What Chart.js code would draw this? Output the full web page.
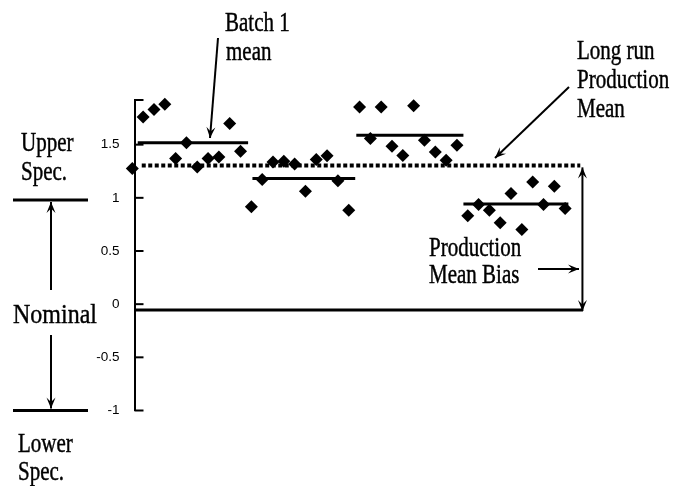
<!DOCTYPE html>
<html>
<head>
<meta charset="utf-8">
<script src="https://cdn.jsdelivr.net/npm/chart.js@4/dist/chart.umd.min.js"></script>
<style>
  body { margin: 0; background: #fff; }
  #wrap { width: 673px; height: 486px; position: relative; }
</style>
</head>
<body>
<div id="wrap"><canvas id="chart"></canvas></div>
<script>
// measured values, one array per batch (sample index runs on across batches)
const batch1 = [1.276, 1.761, 1.831, 1.881, 1.370, 1.517, 1.291, 1.370, 1.385, 1.699, 1.439];
const batch2 = [0.915, 1.173, 1.338, 1.345, 1.317, 1.063, 1.361, 1.395, 1.160, 0.884];
const batch3 = [1.855, 1.558, 1.855, 1.486, 1.398, 1.865, 1.542, 1.430, 1.354, 1.495];
const batch4 = [0.831, 0.938, 0.884, 0.765, 1.041, 0.703, 1.150, 0.938, 1.110, 0.900];

const batchMeans = [1.517, 1.182, 1.589, 0.941];
const meanLineStart = [0.5, 11.1, 20.7, 30.6];
const meanLineEnd = [10.7, 20.6, 30.6, 40.3];

const longRunMean = 1.305;
const longRunSpan = [0.87, 41.4];
const nominal = -0.055;
const nominalSpan = [0.2, 41.65];
const biasArrowAt = 41.6;

const upperSpec = 0.98;
const lowerSpec = -1;

const tickValues = [-1, -0.5, 0, 0.5, 1, 1.5];
const yMin = -1, yMax = 1.92;

// build scatter points
var points = [];
var idx = 0;
[batch1, batch2, batch3, batch4].forEach(function (b) {
  b.forEach(function (v) { points.push({ x: idx, y: v }); idx++; });
});

var datasets = [
  {
    type: 'scatter',
    data: points,
    pointStyle: 'rectRot',
    pointRadius: 6.5,
    backgroundColor: '#000',
    borderColor: '#000',
    borderWidth: 0,
    clip: false
  }
];

batchMeans.forEach(function (m, i) {
  datasets.push({
    type: 'line',
    data: [{ x: meanLineStart[i], y: m }, { x: meanLineEnd[i], y: m }],
    borderColor: '#000',
    borderWidth: 3,
    pointRadius: 0,
    clip: false
  });
});

datasets.push({
  type: 'line',
  data: [{ x: longRunSpan[0], y: longRunMean }, { x: longRunSpan[1], y: longRunMean }],
  borderColor: '#000',
  borderWidth: 4,
  borderDash: [4, 2.5],
  pointRadius: 0,
  clip: false
});

datasets.push({
  type: 'line',
  data: [{ x: nominalSpan[0], y: nominal }, { x: nominalSpan[1], y: nominal }],
  borderColor: '#000',
  borderWidth: 3,
  pointRadius: 0,
  clip: false
});

function serif(ctx, str, x, y, size, sy) {
  ctx.save();
  ctx.translate(x, y);
  ctx.scale(1, sy);
  ctx.font = size + 'px "Liberation Serif"';
  ctx.fillStyle = '#000';
  ctx.strokeStyle = '#000';
  ctx.lineWidth = 0.35;
  ctx.textAlign = 'left';
  ctx.textBaseline = 'alphabetic';
  ctx.fillText(str, 0, 0);
  ctx.strokeText(str, 0, 0);
  ctx.restore();
}

function arrow(ctx, x1, y1, x2, y2, heads) {
  ctx.save();
  ctx.strokeStyle = '#000';
  ctx.fillStyle = '#000';
  ctx.lineWidth = 2;
  ctx.beginPath();
  ctx.moveTo(x1, y1);
  ctx.lineTo(x2, y2);
  ctx.stroke();
  var ends = heads === 2 ? [[x2, y2, x1, y1], [x1, y1, x2, y2]] : [[x1, y1, x2, y2]];
  ends.forEach(function (e) {
    var a = Math.atan2(e[3] - e[1], e[2] - e[0]);
    var len = 11, w = 4.5;
    ctx.beginPath();
    ctx.moveTo(e[2], e[3]);
    ctx.lineTo(e[2] - len * Math.cos(a) + w * Math.sin(a), e[3] - len * Math.sin(a) - w * Math.cos(a));
    ctx.lineTo(e[2] - len * 0.6 * Math.cos(a), e[3] - len * 0.6 * Math.sin(a));
    ctx.lineTo(e[2] - len * Math.cos(a) - w * Math.sin(a), e[3] - len * Math.sin(a) + w * Math.cos(a));
    ctx.closePath();
    ctx.fill();
  });
  ctx.restore();
}

const annotations = {
  id: 'annotations',
  afterDraw: function (chart) {
    var ctx = chart.ctx;
    var ys = chart.scales.y, xs = chart.scales.x;
    var axisX = chart.chartArea.left;

    // inward tick marks on the value axis
    ctx.save();
    ctx.strokeStyle = '#000';
    ctx.lineWidth = 2;
    tickValues.concat([yMax]).forEach(function (v) {
      var py = ys.getPixelForValue(v);
      ctx.beginPath();
      ctx.moveTo(axisX, py);
      ctx.lineTo(axisX + 9, py);
      ctx.stroke();
    });
    ctx.restore();

    // spec limits on the left
    var yU = ys.getPixelForValue(upperSpec), yL = ys.getPixelForValue(lowerSpec);
    ctx.save();
    ctx.strokeStyle = '#000';
    ctx.lineWidth = 3;
    ctx.beginPath();
    ctx.moveTo(13, yU); ctx.lineTo(88, yU);
    ctx.moveTo(13, yL); ctx.lineTo(88, yL);
    ctx.stroke();
    ctx.restore();
    arrow(ctx, 51, 290, 51, yU + 2);
    arrow(ctx, 51, 335, 51, yL - 2);

    serif(ctx, 'Upper', 21, 151, 21, 1.25);
    serif(ctx, 'Spec.', 21, 180, 21, 1.25);
    serif(ctx, 'Nominal', 13, 323, 24, 1.15);
    serif(ctx, 'Lower', 18, 452, 21, 1.25);
    serif(ctx, 'Spec.', 18, 480, 21, 1.25);

    serif(ctx, 'Batch 1', 225, 31, 21, 1.25);
    serif(ctx, 'mean', 226, 60, 21, 1.25);
    arrow(ctx, 218, 38, 210, 138);

    serif(ctx, 'Long run', 577, 59, 21, 1.25);
    serif(ctx, 'Production', 577, 88, 21, 1.25);
    serif(ctx, 'Mean', 577, 117, 21, 1.25);
    arrow(ctx, 569, 87, 495, 158);

    serif(ctx, 'Production', 429, 256, 21, 1.25);
    serif(ctx, 'Mean Bias', 429, 283, 21, 1.25);
    arrow(ctx, 538, 269, 579, 269);

    var bx = xs.getPixelForValue(biasArrowAt);
    arrow(ctx, bx, ys.getPixelForValue(longRunMean) + 2, bx, ys.getPixelForValue(nominal) + 1, 2);
  }
};

new Chart(document.getElementById('chart'), {
  data: { datasets: datasets },
  options: {
    responsive: true,
    maintainAspectRatio: false,
    animation: false,
    layout: { padding: { top: 100, bottom: 75.5, left: 0, right: 76.5 } },
    plugins: { legend: { display: false }, tooltip: { enabled: false } },
    scales: {
      x: { type: 'linear', display: false, min: 0.2, max: 42.9 },
      y: {
        type: 'linear',
        min: yMin,
        max: yMax,
        afterFit: function (s) { s.width = 134.5; },
        afterBuildTicks: function (s) { s.ticks = tickValues.map(function (v) { return { value: v }; }); },
        border: { display: true, color: '#000', width: 2 },
        grid: { display: true, drawOnChartArea: false, drawTicks: false },
        ticks: {
          padding: 15,
          color: '#000',
          font: { family: '"Liberation Sans"', size: 13.5 },
          callback: function (v) { return String(v); }
        }
      }
    }
  },
  plugins: [annotations]
});
</script>
</body>
</html>
